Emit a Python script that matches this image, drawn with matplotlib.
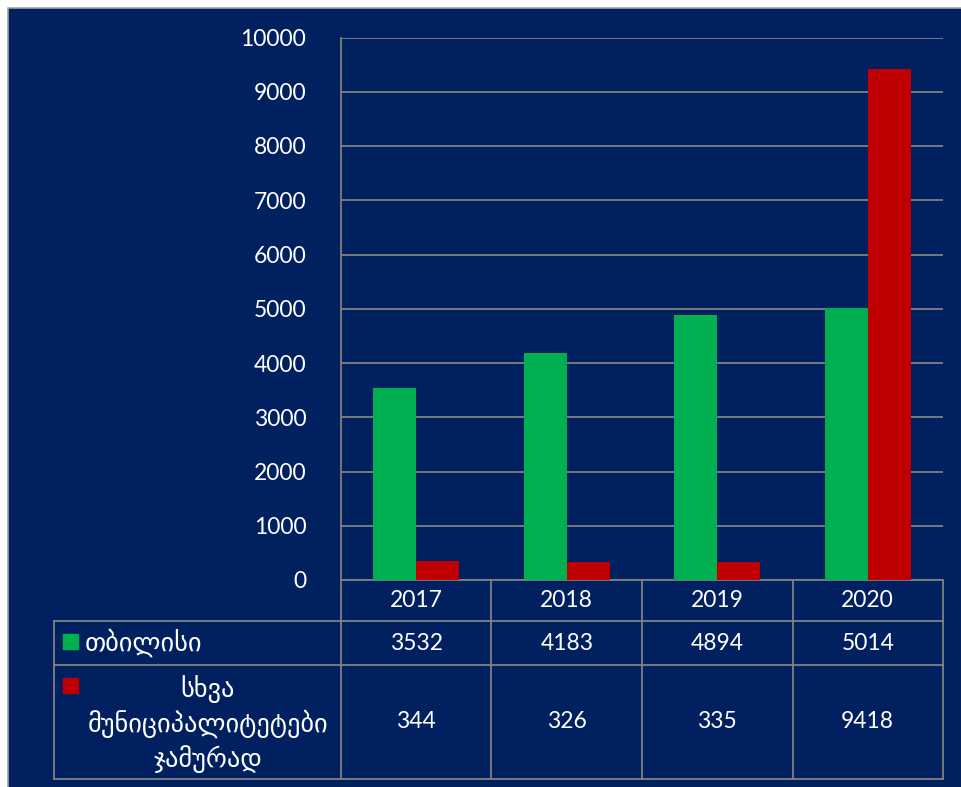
import numpy as np
import matplotlib.pyplot as plt
import matplotlib.transforms as mtransforms
from matplotlib.patches import Rectangle

plt.rcParams['font.family'] = ['Lato', 'DejaVu Sans']

years = ['2017', '2018', '2019', '2020']
tbilisi = [3532, 4183, 4894, 5014]
others = [344, 326, 335, 9418]
series_labels = ['თბილისი', 'სხვა\nმუნიციპალიტეტები\nჯამურად']
series_colors = ['#00B050', '#C00000']

navy = '#002060'
grid_c = '#808080'
W, H = 962, 787

fig = plt.figure(figsize=(W / 100, H / 100), dpi=100, facecolor='white')

# full-figure axes in pixel coordinates for background and table
bg = fig.add_axes([0, 0, 1, 1])
bg.set_xlim(0, W)
bg.set_ylim(H, 0)
bg.axis('off')
bg.add_patch(Rectangle((8, 8), W, H, facecolor=navy, edgecolor='none'))
bg.plot([8, 8, W], [H, 8, 8], color='#a0a0a0', lw=1.2)

# plot area
x0, x1, ytop, ybot = 341, 943, 37.5, 580
ax = fig.add_axes([x0 / W, (H - ybot) / H, (x1 - x0) / W, (ybot - ytop) / H])
ax.set_facecolor('none')

x = np.arange(len(years))
bar_width = 0.287
ax.bar(x - bar_width / 2, tbilisi, width=bar_width, color=series_colors[0], zorder=3)
ax.bar(x + bar_width / 2, others, width=bar_width, color=series_colors[1], zorder=3)

ax.set_xlim(-0.5, 3.5)
ax.set_ylim(0, 10000)
ax.set_yticks(np.arange(0, 10001, 1000))
ax.tick_params(axis='y', length=0, pad=25, labelsize=16.5, labelcolor='white')
ax.set_xticks([])
ax.grid(axis='y', color=grid_c, lw=1.3, zorder=0)
for side in ['top', 'right', 'bottom']:
    ax.spines[side].set_visible(False)
ax.spines['left'].set_color(grid_c)
ax.spines['left'].set_linewidth(1.3)

# data table below the plot
tr = mtransforms.blended_transform_factory(ax.transData, bg.transData)
row_y = [580, 621, 665, 779]
lkw = dict(color=grid_c, lw=1.3)
for xb in np.arange(-0.5, len(years), 1.0):
    bg.plot([xb, xb], [row_y[0], row_y[-1]], transform=tr, **lkw)
bg.plot([-0.5, 3.5], [580, 580], transform=tr, **lkw)
for yb in row_y[1:]:
    bg.plot([54, x1], [yb, yb], **lkw)
bg.plot([54, 54], [row_y[1], row_y[-1]], **lkw)

tkw = dict(color='white', fontsize=16.5, ha='center', va='center')
row_mid = [(row_y[i] + row_y[i + 1]) / 2 for i in range(3)]
for i in range(len(years)):
    bg.text(x[i], row_mid[0], years[i], transform=tr, **tkw)
    bg.text(x[i], row_mid[1], str(tbilisi[i]), transform=tr, **tkw)
    bg.text(x[i], row_mid[2], str(others[i]), transform=tr, **tkw)

# legend keys and row labels
bg.add_patch(Rectangle((63, 634), 15, 15, color=series_colors[0]))
bg.add_patch(Rectangle((63, 678), 15, 15, color=series_colors[1]))
bg.text(85, row_mid[1], series_labels[0], color='white', fontsize=19,
        ha='left', va='center', family=['DejaVu Sans'])
bg.text(208, row_mid[2] + 2, series_labels[1], color='white', fontsize=19,
        ha='center', va='center', linespacing=1.3, family=['DejaVu Sans'])

fig.savefig('out.png', dpi=100, facecolor='white')
